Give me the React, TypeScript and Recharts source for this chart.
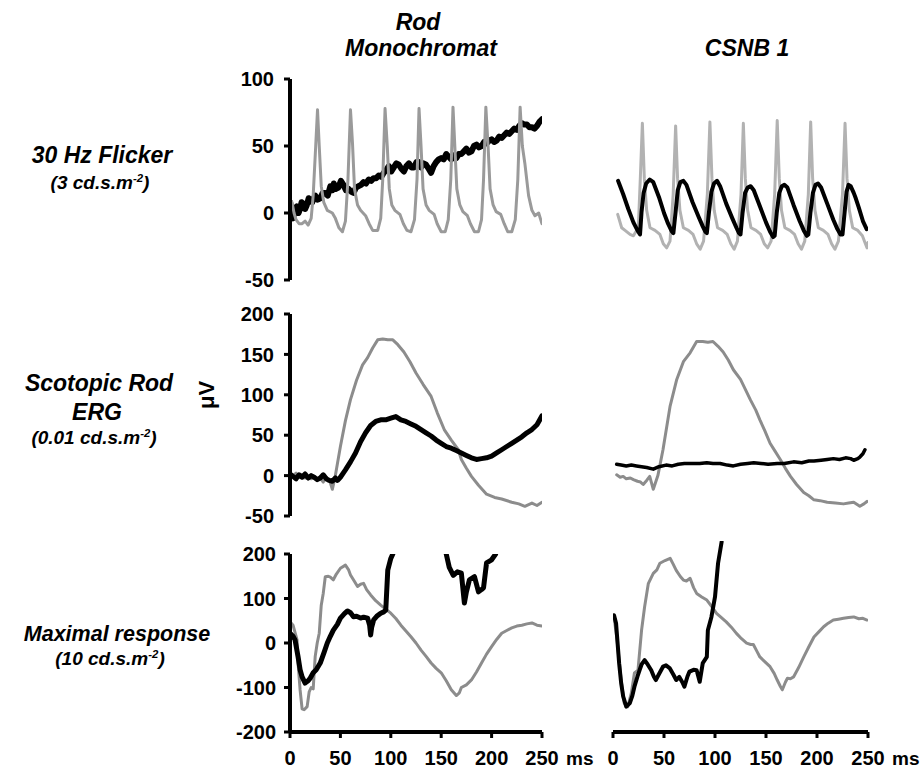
import React from 'react';
import { LineChart, Line, XAxis, YAxis } from 'recharts';

const FONT = '"Liberation Sans", Arial, Helvetica, sans-serif';
type Pt = [number, number];

// ---------- tick labels ----------
const X_TICKS = [0, 50, 100, 150, 200, 250];
const FLICKER_Y_TICKS = [-50, 0, 50, 100];
const SCOTOPIC_Y_TICKS = [-50, 0, 50, 100, 150, 200];
const MAXIMAL_Y_TICKS = [-200, -100, 0, 100, 200];

// ---------- 30 Hz flicker ----------
const flickerRodGray: Pt[] = [[0,10],[2,8],[4,0],[6,-5],[9,-8],[12,-8],[15,-6],[18,-9],[21,-4],[23,13],[25.5,50],[27.3,77],[29,50],[31,20],[33.5,8],[37,2],[42,0],[45,-4],[48.5,-11],[52,-14],[55,-6],[57.5,25],[60,77],[62,52],[64,18],[67,6],[70,2],[75,-2],[78.5,-8],[82,-13],[87,-13],[90,-4],[92,25],[94.3,78],[96.5,50],[98.5,18],[101,6],[104,2],[109,-1],[112.5,-8],[116,-13],[120,-14],[123.5,-5],[126,25],[128,78],[130,50],[132,18],[135,6],[138,2],[143,-1],[146,-8],[150,-14],[154,-14],[157,-5],[159.5,25],[161.7,79],[163.5,50],[165.5,18],[168.5,6],[171.5,1],[176,-2],[179,-8],[183,-14],[187,-14],[190,-5],[192,25],[194.3,79],[196.5,50],[198.5,18],[201.5,6],[204.5,1],[209,-1],[212.5,-8],[216,-14],[220,-14],[223.5,-5],[226,25],[228.3,79],[230.5,50],[233,37],[236.7,13],[240,2],[243,-2],[246.7,0],[250,-8]];
const flickerRodBlack: Pt[] = [[0,8],[1.5,2],[3,-4],[5,3],[6.7,5],[8.5,0],[10,3],[11.5,8],[13,7],[15,3],[16.7,6],[18.5,11],[20,10],[22,8],[25,13],[27.5,10],[30,11],[32.5,15],[35,15],[37.5,13],[40,20],[42,17],[43.5,22],[45.5,18],[48,19],[50.5,24],[53,21],[55.5,17],[58,18],[60.5,16],[63,15],[65.5,19],[68,20],[70.5,21],[73,23],[75.5,22],[78,25],[80.5,24],[83,26],[85.5,26],[88,28],[90.5,27],[93,30],[95.5,32],[98,35],[100.5,31],[103,34],[105.5,37],[108,36],[110.5,33],[113,31],[115.5,35],[118,37],[120.5,34],[123,34],[125.5,38],[128,38],[130,34],[132.5,37],[135,36],[137.5,33],[140,30],[142.5,35],[145,38],[147.5,40],[150,41],[152.5,40],[155,44],[157.5,42],[160,40],[162.5,43],[165,41],[167.5,44],[170,44],[172.5,46],[175,48],[177.5,45],[180,46],[182.5,50],[185,51],[187.5,49],[190,50],[192.5,53],[195,52],[197.5,54],[200,55],[202.5,53],[205,54],[207.5,57],[210,56],[212.5,58],[215,60],[217.5,59],[220,61],[222.5,63],[225,62],[227.5,65],[230,67],[232.5,66],[235,66],[237.5,64],[240,64],[242.5,63],[245,65],[247.5,68],[250,70]];
const flickerCsnbGray: Pt[] = [[4.6,-1],[8.5,-11],[11.8,-13],[16.7,-16],[20,-17],[24.8,-11],[26.8,26],[28.8,67],[30.7,26],[33,2],[36.3,-11],[41.2,-13],[46,-16],[49.3,-23],[52.6,-26],[55.9,-21],[59,14],[61.4,65],[63.3,26],[65.6,2],[69,-11],[74,-13],[78.5,-16],[82,-23],[85.5,-27],[88.8,-21],[92.5,14],[95,68],[97,26],[99.2,2],[102.5,-11],[107.5,-13],[112,-16],[115.5,-23],[118.8,-27],[122,-21],[125.5,14],[127.8,67],[129.7,26],[132,2],[135.3,-11],[140.2,-13],[144.8,-16],[148.3,-23],[151.6,-26],[155,-21],[158.5,14],[161,69],[163,26],[165.2,2],[168.5,-11],[173.4,-13],[178,-16],[181.5,-23],[184.8,-27],[188,-21],[191.5,14],[193.8,68],[195.7,26],[198,2],[201.3,-11],[206.2,-13],[210.8,-16],[214.3,-23],[217.6,-27],[221,-21],[225,14],[227.5,67],[229.4,26],[231.7,2],[235,-11],[240,-13],[244.5,-17],[247,-22],[249,-26],[250,-22]];
const flickerCsnbBlack: Pt[] = [[5,24],[6,22],[10,14],[15,3],[20,-7],[24,-13],[26.5,-16],[28,1],[30,15],[32.5,22],[36,25],[39.5,23],[45,12],[50,0],[54,-8],[57.5,-13.5],[59.2,-15],[61.4,1],[63.5,17],[66,23],[69,24],[72,21],[78,8],[84,-3],[88,-10],[90.5,-14],[92,-15],[94,0],[96.5,16],[99,22],[102,24],[105,20],[111,7],[117,-4],[121,-11],[123.5,-15],[125,-16],[127,0],[129.5,15],[132,19],[135,20],[138,17],[144,5],[150,-7],[154,-14],[157,-18],[158.5,-17],[160.5,0],[163,15],[165.5,20],[168,21],[171,19],[177,6],[183,-6],[187,-13],[190,-17],[191.5,-16],[193.5,0],[196,15],[198.5,21],[201,22],[204,19],[210,7],[216,-5],[220,-12],[223,-16],[225,-16],[227,0],[229,16],[231,21],[233,20],[236,15],[238,11],[241,4],[245,-6],[248.7,-12]];

// ---------- Scotopic rod ERG ----------
const scotRodGray: Pt[] = [[0,2],[3,0],[6,3],[9,-1],[12,1],[15,-3],[18,-1],[21,-4],[24,-2],[27,-6],[30,-3],[33,-8],[36,-2],[39,-5],[42,-17],[45,0],[50,36],[55,68],[60,94],[66,118],[72,137],[77,146],[82,158],[87,168],[92,169],[97,168],[102,168],[107,162],[113,153],[119,141],[125,127],[132,113],[140,98],[146,78],[153,57],[160,44],[167,32],[170,20],[175,9],[180,-1],[187,-12],[195,-23],[203,-27],[210,-29],[220,-33],[227,-35],[233,-38],[240,-34],[245,-37],[250,-33]];
const scotRodBlack: Pt[] = [[0,2],[3,-1],[6,-4],[9,1],[12,-2],[15,2],[18,-3],[21,0],[24,-2],[27,-5],[30,-3],[33,1],[36,-4],[39,-6],[42,-7],[45,-3],[47,-6],[50,-2],[55,7],[60,17],[65,28],[70,42],[75,53],[80,62],[85,67],[90,69],[95,69],[100,71],[105,73],[110,69],[115,67],[120,64],[125,61],[130,57],[135,53],[140,49],[145,44],[150,40],[155,36],[160,34],[165,31],[170,28],[175,25],[180,22],[185,20],[190,21],[195,22],[200,24],[205,28],[210,32],[215,36],[220,40],[225,44],[230,48],[235,53],[240,57],[245,63],[250,74]];
const scotCsnbGray: Pt[] = [[3.6,1],[7,-2],[10,-1],[13,-4],[17,-3],[20,-5],[24,-7],[27,-8],[29.6,-11],[33,-6],[36,-1],[39.5,-17],[44,0],[49,32],[56,86],[62.5,119],[69,141],[75.6,152],[82,166],[88,166],[93,165],[98,166],[103,160],[108,153],[113,143],[118,131],[125,119],[130,106],[134.6,94],[140,81],[144,69],[149,55],[154,40],[159,30],[164,20],[169,9],[174,-1],[180,-11],[187,-21],[192,-25],[197,-30],[203,-31],[210,-33],[218,-34],[226,-35],[231,-34],[236,-33],[242,-38],[246,-35],[249,-32]];
const scotCsnbBlack: Pt[] = [[3.6,14],[8,13],[13,12],[18,13],[23,12],[28,11],[33,10],[39.5,8],[45,11],[52,13],[58,12],[64,14],[70,15],[78,15],[85,15],[92,16],[98,15],[105,15],[112,13],[118,12],[125,14],[132,15],[138,16],[145,15],[152,14],[161,15],[168,15],[177,17],[185,16],[192,18],[197,18],[204,19],[210,20],[216,21],[222,20],[228,22],[233,21],[236,19],[240,21],[242,23],[245,27],[247,32]];

// ---------- Maximal response ----------
const maxRodGray: Pt[] = [[0,48],[3,40],[7,7],[8,-45],[10,-105],[12,-148],[14,-150],[17,-143],[19,-110],[21,-100],[23,-103],[25,-30],[27,0],[29,22],[31,85],[33,112],[35,149],[38,150],[40,148],[43,142],[46,155],[50,168],[55,175],[58,165],[60,153],[64,138],[67,127],[70,132],[73,134],[76,120],[80,108],[85,95],[90,85],[95,76],[100,67],[105,55],[110,40],[115,27],[120,14],[125,0],[130,-16],[135,-30],[140,-45],[145,-57],[150,-67],[155,-85],[160,-105],[165,-118],[168,-112],[170,-100],[175,-94],[180,-83],[185,-65],[190,-45],[195,-25],[200,-8],[205,8],[210,22],[215,28],[220,34],[225,38],[230,40],[235,43],[240,45],[245,40],[250,38]];
const maxRodBlack: Pt[] = [[0,22],[3,15],[5,7],[8,-31],[10,-60],[12,-76],[15,-90],[18,-85],[20,-79],[23,-67],[26,-60],[30,-45],[34,-20],[37,0],[40,15],[43,29],[47,42],[50,56],[54,66],[57,72],[60,68],[63,59],[66,60],[70,56],[73,58],[77,56],[79,40],[80,18],[81,35],[83,52],[86,60],[90,67],[93,70],[95,74],[97,164],[100,190],[102,200],[106,320],[128,600],[150,320],[155,200],[158,170],[162,152],[166,160],[170,157],[173,90],[175,115],[178,142],[183,149],[187,115],[190,120],[192,124],[195,180],[200,187],[204,200],[208,320]];
const maxCsnbGray: Pt[] = [[1,59],[4,7],[8,-83],[11,-135],[14.5,-143],[18,-112],[21,-67],[24.5,-61],[28,29],[31,82],[34.6,134],[39.5,157],[43,165],[46,180],[51,186],[56,191],[59,178],[62,164],[66,150],[69,142],[72,140],[75.6,146],[79,125],[82,112],[87,104],[92,97],[97,82],[101.5,67],[106,58],[111,48],[116,36],[121,22],[126,10],[131,0],[135,-3],[137.6,-3],[141,-18],[144,-31],[149,-42],[154,-53],[158,-68],[161,-83],[164,-97],[166,-105],[169,-88],[171,-79],[174,-80],[177,-76],[182,-55],[187,-31],[192,-8],[197,14],[202,26],[206.5,37],[211,45],[216,52],[221,54],[226,56],[231,58],[236,59],[241,55],[245,56],[249,52]];
const maxCsnbBlack: Pt[] = [[1,63],[3,45],[6,-45],[8,-90],[10,-120],[13,-143],[16.5,-135],[19,-118],[21,-98],[24,-75],[26,-61],[28,-48],[31,-38],[34,-48],[37.5,-61],[40,-75],[42,-83],[45,-70],[49,-53],[52,-50],[55.5,-56],[59,-70],[62,-83],[65,-76],[68,-88],[70,-98],[73,-75],[75,-64],[79,-60],[82,-61],[85,-87],[88,-45],[92,-31],[93,29],[96.5,59],[100,104],[103,180],[106.5,228]];

const toRows = (pts: Pt[]) => pts.map(([t, v]) => ({ t, v }));

type Series = { data: Pt[]; color: string; width: number };

function XTick(props: any) {
  const { x, y, payload } = props;
  return (
    <g transform={`translate(${x},${y})`}>
      <text x={0} y={0} dy="0.71em" textAnchor="middle"
        fontFamily={FONT} fontWeight="bold" fontSize={20} fill="#000">{payload.value}</text>
      {payload.value === 250 && (
        <text x={24} y={0} dy="0.71em" textAnchor="start"
          fontFamily={FONT} fontWeight="bold" fontSize={19} fill="#000">ms</text>
      )}
    </g>
  );
}

function Panel(p: {
  left: number; top: number; plotW: number; plotH: number;
  yDomain: [number, number]; yTicks?: number[]; showY: boolean; showX: boolean;
  yTickMargin?: number; series: Series[];
}) {
  const yAxisW = p.showY ? 90 : 0;
  const xAxisH = p.showX ? 38 : 0;
  const m = { top: 10, right: 60, bottom: p.showX ? 0 : 10, left: p.showY ? 0 : 10 };
  const width = m.left + yAxisW + p.plotW + m.right;
  const height = m.top + p.plotH + xAxisH + m.bottom;
  return (
    <div style={{ position: 'absolute', left: p.left - m.left - yAxisW, top: p.top - m.top }}>
      <LineChart width={width} height={height} margin={m}>
        <XAxis dataKey="t" type="number" domain={[0, 250]} ticks={X_TICKS} allowDataOverflow
          hide={!p.showX} height={xAxisH}
          axisLine={{ stroke: '#000', strokeWidth: 4 }}
          tickLine={{ stroke: '#000', strokeWidth: 3 }} tickSize={6} tickMargin={13}
          tick={<XTick />} interval={0} />
        <YAxis type="number" domain={p.yDomain} ticks={p.yTicks} allowDataOverflow
          hide={!p.showY} width={yAxisW}
          axisLine={{ stroke: '#000', strokeWidth: 4 }}
          tickLine={{ stroke: '#000', strokeWidth: 3 }} tickSize={6} tickMargin={p.yTickMargin ?? 10}
          tick={{ fill: '#000', fontSize: 20, fontWeight: 'bold', fontFamily: FONT }} interval={0} />
        {p.series.map((s, i) => (
          <Line key={i} data={toRows(s.data)} dataKey="v" type="linear" stroke={s.color}
            strokeWidth={s.width} dot={false} activeDot={false} isAnimationActive={false}
            strokeLinejoin="round" strokeLinecap="round" />
        ))}
      </LineChart>
    </div>
  );
}

function Label(props: { x: number; y: number; size: number; italic?: boolean; rotate?: number; children: React.ReactNode }) {
  return (
    <div style={{
      position: 'absolute', left: props.x, top: props.y,
      transform: `translate(-50%, -50%)${props.rotate ? ` rotate(${props.rotate}deg)` : ''}`,
      fontFamily: FONT, fontWeight: 'bold', fontStyle: props.italic === false ? 'normal' : 'italic',
      fontSize: props.size, lineHeight: 1, whiteSpace: 'nowrap', color: '#000',
    }}>{props.children}</div>
  );
}

const Sup = () => <sup style={{ fontSize: '0.6em', lineHeight: 0, verticalAlign: '0.6em' }}>-2</sup>;

const GRAY1 = '#9a9a9a';
const GRAY1R = '#b2b2b2';
const GRAY = '#8c8c8c';
const LEFT_X = 290, RIGHT_X = 613, LEFT_W = 252, RIGHT_W = 255;

export default function App() {
  return (
    <div style={{ position: 'absolute', left: 0, top: 0, width: 921, height: 770, overflow: 'hidden', background: '#fff' }}>
      <Label x={418} y={22} size={23}>Rod</Label>
      <Label x={421} y={48} size={23}>Monochromat</Label>
      <Label x={747} y={48} size={23}>CSNB 1</Label>

      <Label x={102} y={155} size={23}>30 Hz Flicker</Label>
      <Label x={100} y={182} size={19}>(3 cd.s.m<Sup />)</Label>
      <Label x={99} y={383} size={23}>Scotopic Rod</Label>
      <Label x={97} y={412} size={23}>ERG</Label>
      <Label x={94} y={437} size={19}>(0.01 cd.s.m<Sup />)</Label>
      <Label x={117} y={635} size={21.5}>Maximal response</Label>
      <Label x={110} y={658} size={19}>(10 cd.s.m<Sup />)</Label>
      <Label x={207} y={395} size={22} italic={false} rotate={-90}>μV</Label>

      {/* Row 1 */}
      <Panel left={LEFT_X} top={79} plotW={LEFT_W} plotH={201} yDomain={[-50, 100]} yTicks={FLICKER_Y_TICKS}
        showY showX={false}
        series={[{ data: flickerRodBlack, color: '#000', width: 6 }, { data: flickerRodGray, color: GRAY1, width: 3 }]} />
      <Panel left={RIGHT_X} top={79} plotW={RIGHT_W} plotH={201} yDomain={[-50, 100]}
        showY={false} showX={false}
        series={[{ data: flickerCsnbGray, color: GRAY1R, width: 3 }, { data: flickerCsnbBlack, color: '#000', width: 4 }]} />

      {/* Row 2 */}
      <Panel left={LEFT_X} top={314} plotW={LEFT_W} plotH={202} yDomain={[-50, 200]} yTicks={SCOTOPIC_Y_TICKS}
        showY showX={false}
        series={[{ data: scotRodGray, color: GRAY, width: 3 }, { data: scotRodBlack, color: '#000', width: 5 }]} />
      <Panel left={RIGHT_X} top={314} plotW={RIGHT_W} plotH={202} yDomain={[-50, 200]}
        showY={false} showX={false}
        series={[{ data: scotCsnbGray, color: GRAY, width: 3 }, { data: scotCsnbBlack, color: '#000', width: 3.5 }]} />

      {/* Row 3 */}
      <Panel left={LEFT_X} top={554} plotW={LEFT_W} plotH={178} yDomain={[-200, 200]} yTicks={MAXIMAL_Y_TICKS}
        showY showX yTickMargin={8}
        series={[{ data: maxRodGray, color: GRAY, width: 3 }, { data: maxRodBlack, color: '#000', width: 5 }]} />
      <Panel left={RIGHT_X} top={541} plotW={RIGHT_W} plotH={191} yDomain={[-200, 230]}
        showY={false} showX
        series={[{ data: maxCsnbGray, color: GRAY, width: 3 }, { data: maxCsnbBlack, color: '#000', width: 4 }]} />
    </div>
  );
}
